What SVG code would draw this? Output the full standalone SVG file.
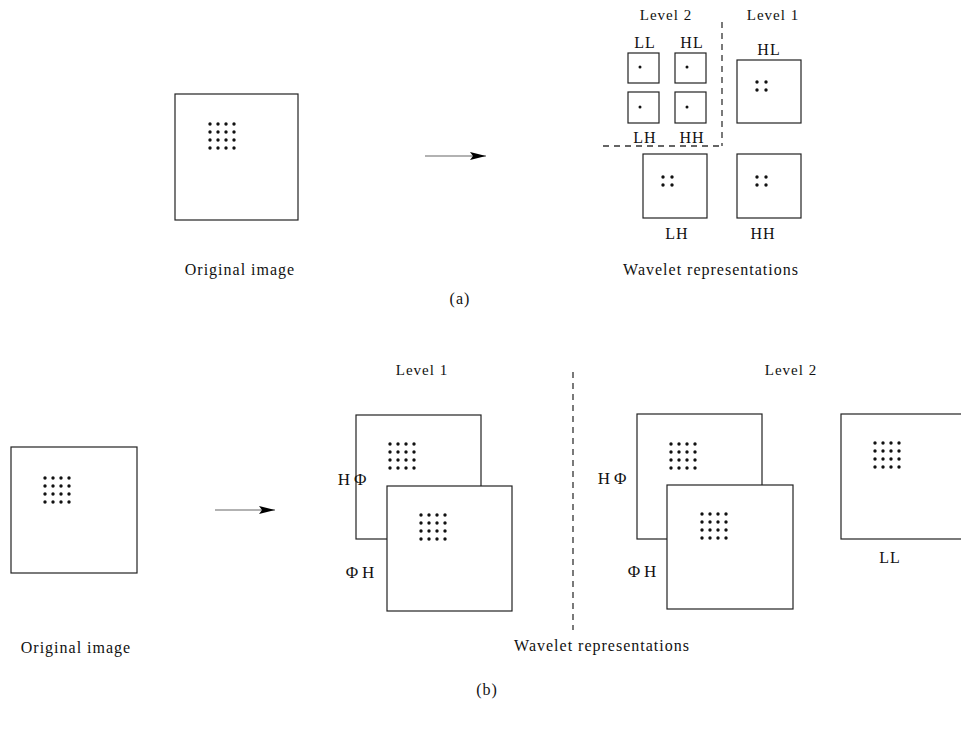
<svg xmlns="http://www.w3.org/2000/svg" width="961" height="732" viewBox="0 0 961 732">
<defs>
<style>
.box{fill:#fff;stroke:#222;stroke-width:1.2}
.t{font-family:"Liberation Serif","Times New Roman",serif;font-size:16px;letter-spacing:1px;fill:#111;text-anchor:middle}
.s{font-size:15px}
.phi{font-size:17px;letter-spacing:4px}
.d{fill:#111}
.dash{stroke:#333;stroke-width:1.3;stroke-dasharray:6,5;fill:none}
.arr{stroke:#999;stroke-width:1.5;fill:none}
</style>
<marker id="ah" markerWidth="16" markerHeight="8" refX="16" refY="4" orient="auto" markerUnits="userSpaceOnUse">
<path d="M0,0 L16,4 L0,8 L3,4 Z" fill="#000"/>
</marker>
<g id="grid16">
<circle cx="0" cy="0" r="1.7"/><circle cx="8" cy="0" r="1.7"/><circle cx="16" cy="0" r="1.7"/><circle cx="24" cy="0" r="1.7"/>
<circle cx="0" cy="8" r="1.7"/><circle cx="8" cy="8" r="1.7"/><circle cx="16" cy="8" r="1.7"/><circle cx="24" cy="8" r="1.7"/>
<circle cx="0" cy="16" r="1.7"/><circle cx="8" cy="16" r="1.7"/><circle cx="16" cy="16" r="1.7"/><circle cx="24" cy="16" r="1.7"/>
<circle cx="0" cy="24" r="1.7"/><circle cx="8" cy="24" r="1.7"/><circle cx="16" cy="24" r="1.7"/><circle cx="24" cy="24" r="1.7"/>
</g>
<g id="grid4">
<circle cx="0" cy="0" r="1.7"/><circle cx="9" cy="0" r="1.7"/>
<circle cx="0" cy="8" r="1.7"/><circle cx="9" cy="8" r="1.7"/>
</g>
</defs>
<rect width="961" height="732" fill="#fff"/>

<!-- (a) -->
<g id="a-original">
<rect class="box" x="175" y="94" width="123" height="126"/>
<use href="#grid16" x="210" y="124" class="d"/>
<text class="t" x="240" y="275">Original image</text>
</g>

<g id="connectors">
<line class="arr" x1="425" y1="156" x2="486" y2="156" marker-end="url(#ah)"/>
<line class="arr" x1="215" y1="510" x2="275" y2="510" marker-end="url(#ah)"/>
</g>

<g id="a-wavelet">
<text class="t s" x="666" y="20">Level 2</text>
<text class="t s" x="773" y="20">Level 1</text>
<text class="t" x="645" y="48">LL</text>
<text class="t" x="692" y="48">HL</text>
<rect class="box" x="628" y="53" width="31" height="30"/>
<circle class="d" cx="640" cy="67" r="1.5"/>
<rect class="box" x="675" y="53" width="31" height="30"/>
<circle class="d" cx="687" cy="67" r="1.5"/>
<rect class="box" x="628" y="92" width="31" height="31"/>
<circle class="d" cx="640" cy="107" r="1.5"/>
<rect class="box" x="675" y="92" width="31" height="31"/>
<circle class="d" cx="687" cy="107" r="1.5"/>
<text class="t" x="645" y="143">LH</text>
<text class="t" x="692" y="143">HH</text>
<path class="dash" d="M722,22 V146 M603,146 H722"/>
<text class="t" x="769" y="55">HL</text>
<rect class="box" x="737" y="60" width="64" height="63"/>
<use href="#grid4" x="757" y="82" class="d"/>
<rect class="box" x="643" y="154" width="64" height="64"/>
<use href="#grid4" x="663" y="177" class="d"/>
<rect class="box" x="737" y="154" width="64" height="64"/>
<use href="#grid4" x="757" y="177" class="d"/>
<text class="t" x="677" y="239">LH</text>
<text class="t" x="763" y="239">HH</text>
<text class="t" x="711" y="275">Wavelet representations</text>
</g>
<text class="t" x="460" y="304">(a)</text>

<!-- (b) -->
<g id="b-original">
<rect class="box" x="11" y="447" width="126" height="126"/>
<use href="#grid16" x="45" y="478" class="d"/>
<text class="t" x="76" y="653">Original image</text>
</g>

<g id="b-level1">
<text class="t s" x="422" y="375">Level 1</text>
<rect class="box" x="356" y="415" width="125" height="124"/>
<use href="#grid16" x="390" y="444" class="d"/>
<rect class="box" x="387" y="486" width="125" height="125"/>
<use href="#grid16" x="421" y="515" class="d"/>
<text class="t phi" x="354" y="485">HΦ</text>
<text class="t phi" x="362" y="578">ΦH</text>
</g>

<path class="dash" d="M573,372 V630"/>

<g id="b-level2">
<text class="t s" x="791" y="375">Level 2</text>
<rect class="box" x="637" y="414" width="125" height="125"/>
<use href="#grid16" x="671" y="444" class="d"/>
<rect class="box" x="667" y="485" width="126" height="124"/>
<use href="#grid16" x="702" y="514" class="d"/>
<text class="t phi" x="614" y="484">HΦ</text>
<text class="t phi" x="644" y="577">ΦH</text>
</g>

<g id="b-ll">
<rect class="box" x="841" y="414" width="125" height="125"/>
<use href="#grid16" x="875" y="443" class="d"/>
<text class="t" x="890" y="563">LL</text>
</g>

<text class="t" x="602" y="651">Wavelet representations</text>
<text class="t" x="487" y="695">(b)</text>
</svg>
